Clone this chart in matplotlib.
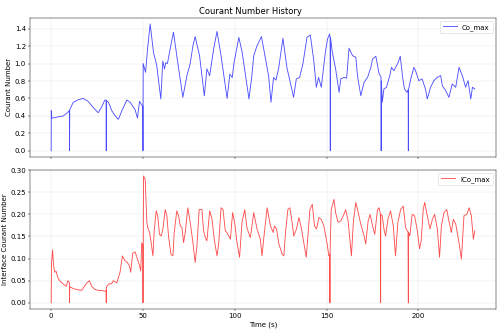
import matplotlib
matplotlib.use("Agg")
import matplotlib.pyplot as plt

plt.rcParams['font.size'] = 12

# === Co_max ===
co_time = [0.0, 0.05, 0.3, 2.0, 4.0, 6.5, 8.5, 9.9, 10.0, 10.1, 12.0, 14.7, 17.4, 20.1,
           22.8, 25.6, 27.4, 29.2, 29.9, 30.0, 30.1, 31.2, 33.0, 34.8, 36.6, 38.5, 41.2,
           43.0, 45.7, 47.0, 48.1, 49.0, 49.9, 50.0, 50.1, 51.4, 52.5, 53.9, 55.7, 57.5,
           59.7, 60.8, 61.7, 62.4, 63.3, 64.8, 66.6, 68.4, 71.7, 73.9, 75.7, 77.2, 78.4,
           80.8, 83.4, 84.8, 86.3, 88.5, 90.3, 92.5, 95.8, 97.3, 98.6, 99.5, 102.2, 104.0,
           107.7, 108.3, 109.2, 110.3, 112.0, 114.5, 116.6, 118.4, 119.7, 121.1, 122.4,
           123.9, 126.2, 128.4, 130.2, 132.0, 133.5, 135.3, 137.1, 139.3, 141.1, 142.9,
           144.4, 145.6, 147.1, 149.3, 150.5, 151.6, 151.9, 152.0, 152.1, 153.1, 154.9,
           156.8, 157.7, 159.5, 160.9, 162.2, 164.1, 165.9, 166.8, 168.6, 170.4, 172.3,
           174.1, 175.0, 176.8, 178.6, 179.6, 179.7, 179.8, 180.3, 181.2, 182.6, 184.4,
           185.3, 186.6, 188.1, 189.0, 190.1, 191.5, 192.4, 193.7, 194.4, 194.5, 194.6,
           195.6, 197.5, 198.4, 200.2, 202.0, 203.8, 204.8, 206.6, 208.4, 210.2, 212.1,
           213.0, 214.8, 216.6, 218.4, 220.3, 222.1, 223.9, 225.7, 227.0, 228.5, 229.4,
           230.7]
co_max = [0.0, 0.46, 0.375, 0.38, 0.39, 0.398, 0.43, 0.46, 0.0, 0.47, 0.555, 0.585, 0.60,
          0.567, 0.498, 0.436, 0.498, 0.582, 0.58, 0.0, 0.575, 0.555, 0.46, 0.40, 0.36,
          0.46, 0.582, 0.555, 0.47, 0.375, 0.567, 0.535, 0.51, 0.0, 1.0, 0.90, 1.17, 1.455,
          1.13, 0.976, 0.594, 1.03, 0.938, 1.01, 1.0, 1.17, 1.36, 1.09, 0.613, 0.86, 1.0,
          1.205, 1.31, 1.09, 0.63, 0.94, 0.86, 1.17, 1.37, 1.09, 0.60, 0.88, 0.84, 1.0,
          1.30, 1.13, 0.594, 0.70, 0.84, 1.09, 1.20, 1.31, 1.07, 0.86, 0.556, 0.84, 0.81,
          0.95, 1.29, 0.95, 0.785, 0.613, 0.824, 0.842, 1.0, 1.30, 1.328, 1.053, 0.728,
          0.842, 0.728, 1.129, 1.282, 1.34, 1.30, 0.0, 1.30, 1.129, 0.938, 0.670, 0.824,
          0.842, 0.831, 1.175, 1.091, 1.072, 0.862, 0.632, 0.785, 0.842, 0.957, 1.053,
          1.084, 0.881, 0.85, 0.0, 0.80, 0.556, 0.709, 0.728, 0.862, 0.957, 0.919, 0.976,
          1.015, 1.084, 0.824, 0.709, 0.670, 0.70, 0.0, 0.70, 0.804, 0.957, 0.919, 0.804,
          0.824, 0.709, 0.594, 0.728, 0.804, 0.842, 0.862, 0.747, 0.69, 0.613, 0.766,
          0.728, 0.957, 0.862, 0.728, 0.804, 0.594, 0.728, 0.709]

# === ICo_max ===
ico_time = [0.0, 0.2, 0.75, 1.3, 2.0, 2.7, 3.6, 4.6, 6.4, 8.2, 9.1, 9.9, 10.0, 10.1, 10.6,
            12.1, 13.9, 16.6, 18.4, 19.7, 20.8, 22.1, 23.9, 25.7, 27.5, 29.3, 29.9, 30.0,
            30.1, 30.6, 31.7, 32.9, 33.8, 35.7, 36.6, 37.5, 38.8, 40.2, 41.5, 42.6, 43.3,
            44.4, 45.7, 47.0, 48.1, 48.8, 49.3, 49.9, 50.0, 50.3, 51.2, 52.1, 52.6, 53.6,
            54.3, 55.4, 56.1, 57.2, 58.0, 59.0, 59.9, 60.8, 62.1, 63.0, 63.9, 65.2, 66.3,
            67.0, 68.4, 69.4, 70.3, 71.2, 72.1, 73.0, 74.4, 75.7, 77.2, 78.4, 79.3, 80.6,
            82.1, 83.0, 83.9, 84.8, 86.3, 87.6, 88.8, 90.3, 91.2, 92.5, 93.6, 94.8, 95.7,
            97.6, 98.8, 99.9, 101.2, 102.6, 103.9, 105.4, 106.6, 108.1, 108.5, 110.3,
            112.1, 113.9, 114.8, 116.1, 117.6, 119.4, 120.9, 121.6, 122.7, 124.0, 125.8,
            126.7, 127.6, 128.9, 130.0, 131.2, 132.1, 133.6, 134.9, 136.2, 137.6, 138.9,
            139.8, 140.9, 142.2, 143.4, 144.5, 145.8, 147.0, 148.5, 150.3, 151.2, 151.7,
            151.8, 151.9, 152.5, 154.0, 154.9, 156.2, 157.7, 159.1, 160.4, 161.7, 163.5,
            164.6, 165.9, 167.2, 168.6, 170.4, 171.3, 172.6, 173.7, 175.0, 176.2, 177.7,
            178.6, 179.3, 179.4, 179.5, 180.3, 181.2, 182.1, 183.4, 184.8, 186.3, 187.5,
            188.8, 190.3, 191.7, 193.0, 194.3, 194.5, 194.6, 195.3, 196.6, 197.9, 199.4,
            200.6, 201.5, 202.6, 203.4, 204.8, 206.3, 207.6, 208.8, 210.3, 211.5, 212.5,
            213.9, 215.4, 216.6, 217.9, 219.0, 220.3, 222.1, 223.4, 224.8, 226.3, 227.6,
            228.8, 229.9, 230.7]
ico_max = [0.0, 0.091, 0.120, 0.084, 0.069, 0.071, 0.057, 0.050, 0.043, 0.037, 0.050, 0.045,
           0.0, 0.037, 0.035, 0.032, 0.030, 0.028, 0.039, 0.046, 0.050, 0.037, 0.030, 0.028,
           0.028, 0.026, 0.028, 0.0, 0.035, 0.039, 0.043, 0.043, 0.050, 0.045, 0.057, 0.069,
           0.106, 0.095, 0.091, 0.084, 0.069, 0.112, 0.115, 0.099, 0.084, 0.072, 0.136, 0.13,
           0.0, 0.287, 0.279, 0.182, 0.170, 0.159, 0.140, 0.106, 0.163, 0.208, 0.197, 0.155,
           0.151, 0.166, 0.211, 0.197, 0.151, 0.110, 0.106, 0.159, 0.208, 0.197, 0.174,
           0.170, 0.136, 0.159, 0.215, 0.182, 0.136, 0.091, 0.125, 0.211, 0.211, 0.163,
           0.148, 0.140, 0.208, 0.189, 0.144, 0.106, 0.133, 0.215, 0.211, 0.163, 0.159,
           0.144, 0.204, 0.182, 0.136, 0.103, 0.182, 0.211, 0.170, 0.151, 0.148, 0.204,
           0.167, 0.144, 0.106, 0.159, 0.215, 0.174, 0.159, 0.174, 0.167, 0.133, 0.110,
           0.106, 0.159, 0.211, 0.215, 0.182, 0.151, 0.167, 0.193, 0.170, 0.136, 0.103,
           0.151, 0.211, 0.223, 0.174, 0.167, 0.193, 0.189, 0.174, 0.133, 0.106, 0.11, 0.0,
           0.12, 0.211, 0.234, 0.204, 0.182, 0.185, 0.197, 0.211, 0.185, 0.106, 0.185,
           0.227, 0.204, 0.178, 0.151, 0.133, 0.185, 0.200, 0.174, 0.155, 0.211, 0.215,
           0.20, 0.0, 0.20, 0.197, 0.167, 0.151, 0.189, 0.208, 0.174, 0.106, 0.182, 0.211,
           0.219, 0.170, 0.16, 0.0, 0.16, 0.151, 0.200, 0.197, 0.163, 0.122, 0.140, 0.211,
           0.227, 0.197, 0.167, 0.189, 0.200, 0.167, 0.103, 0.174, 0.204, 0.211, 0.185,
           0.159, 0.189, 0.178, 0.136, 0.099, 0.197, 0.200, 0.215, 0.197, 0.144, 0.163]

# figure drawn at 12x8 in, saved small
fig, (ax1, ax2) = plt.subplots(2, 1, figsize=(12, 7.968), sharex=True)
fig.subplots_adjust(left=0.06, right=0.992, top=0.947, bottom=0.069, hspace=0.09)
fig.suptitle("Courant Number History")

ax1.plot(co_time, co_max, 'b-', alpha=0.7, linewidth=1.5, label='Co_max')
ax1.set_ylabel("Courant Number")
ax1.grid(True, alpha=0.3)
ax1.legend(loc='upper right')

ax2.plot(ico_time, ico_max, 'r-', alpha=0.7, linewidth=1.5, label='ICo_max')
ax2.set_ylabel("Interface Courant Number")
ax2.set_xlabel("Time (s)")
ax2.grid(True, alpha=0.3)
ax2.legend(loc='upper right')

fig.savefig("out.png", dpi=500 / 12)
